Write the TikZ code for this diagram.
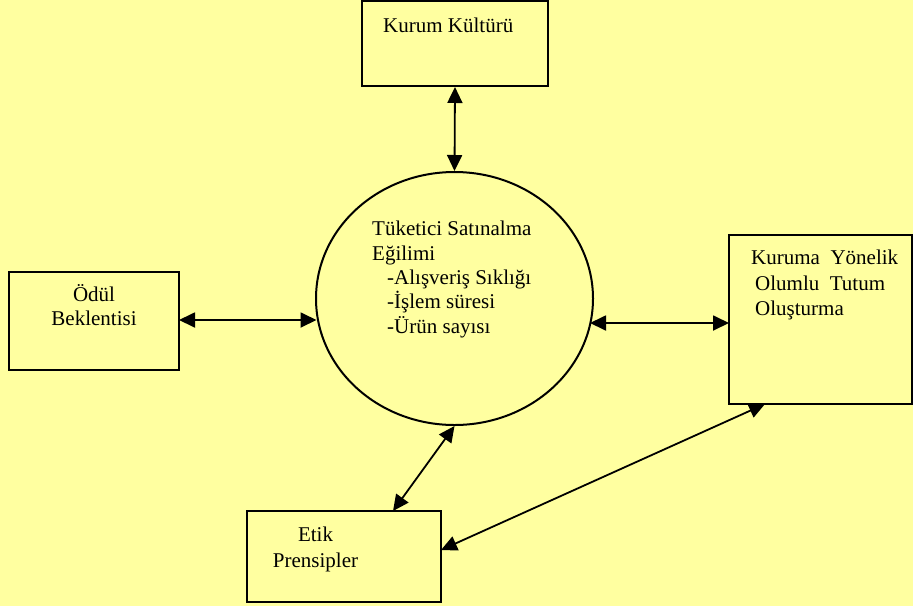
\documentclass[tikz,border=0pt]{standalone}
\usepackage{fontspec}
\setmainfont{Liberation Serif}
\newfontfamily\tnr{Liberation Serif}
\usetikzlibrary{arrows.meta,shapes.geometric}
\definecolor{bgyellow}{RGB}{255,255,160}
\begin{document}
\begin{tikzpicture}[x=1pt,y=-1pt,
  box/.style={draw=black, line width=2pt, fill=bgyellow, inner sep=0pt},
  lbl/.style={font=\tnr\fontsize{21}{24.5}\selectfont, anchor=base west, inner sep=0pt},
  link/.style={line width=1.8pt, {Triangle[length=16pt,width=15pt]}-{Triangle[length=16pt,width=15pt]}}]
\fill[bgyellow] (0,0) rectangle (913,606);
\useasboundingbox (0,0) rectangle (913,606);
% boxes
\node[box, minimum width=186pt, minimum height=85pt] (kurum) at (455,43.5) {};
\node[box, minimum width=170pt, minimum height=98pt] (odul) at (94,321) {};
\node[box, minimum width=183pt, minimum height=169pt] (kuruma) at (820.5,319.5) {};
\node[box, minimum width=194pt, minimum height=91pt] (etik) at (344,556.5) {};
\node[ellipse, draw=black, line width=2pt, fill=bgyellow, inner sep=0pt,
      minimum width=277pt, minimum height=253pt] (circ) at (454.5,298.5) {};
% texts
\node[lbl] (t1) at (383,32) {Kurum Kültürü};
\node[lbl] (t2) at (372,235) {Tüketici Satınalma};
\node[lbl] (t3) at (372,260) {Eğilimi};
\node[lbl] (t4) at (387,284) {-Alışveriş Sıklığı};
\node[lbl] (t5) at (387,308) {-İşlem süresi};
\node[lbl] (t6) at (387,333) {-Ürün sayısı};
\node[lbl, anchor=base] (t7) at (94,301) {Ödül};
\node[lbl, anchor=base] (t8) at (94,325) {Beklentisi};
\node[lbl] (t9) at (751,264) {Kuruma\ \ Yönelik};
\node[lbl] (t10) at (755,290) {Olumlu\ \ Tutum};
\node[lbl] (t11) at (755,315) {Oluşturma};
\node[lbl, anchor=base] (t12) at (315.5,541) {Etik};
\node[lbl, anchor=base] (t13) at (315.5,567) {Prensipler};
% connector end points
\coordinate (odulR) at (179,320);
\coordinate (circL) at (316.5,320);
\coordinate (circR) at (590,323);
\coordinate (kurumaL) at (729,323);
\coordinate (etikT) at (393,511);
\coordinate (etikR) at (441,550);
\coordinate (kurumaB) at (765,404);
% connectors
\draw[link] (kurum.south) -- (circ.north);
\draw[link] (odulR) -- (circL);
\draw[link] (circR) -- (kurumaL);
\draw[link] (etikT) -- (circ.south);
\draw[link] (etikR) -- (kurumaB);
\end{tikzpicture}
\end{document}
